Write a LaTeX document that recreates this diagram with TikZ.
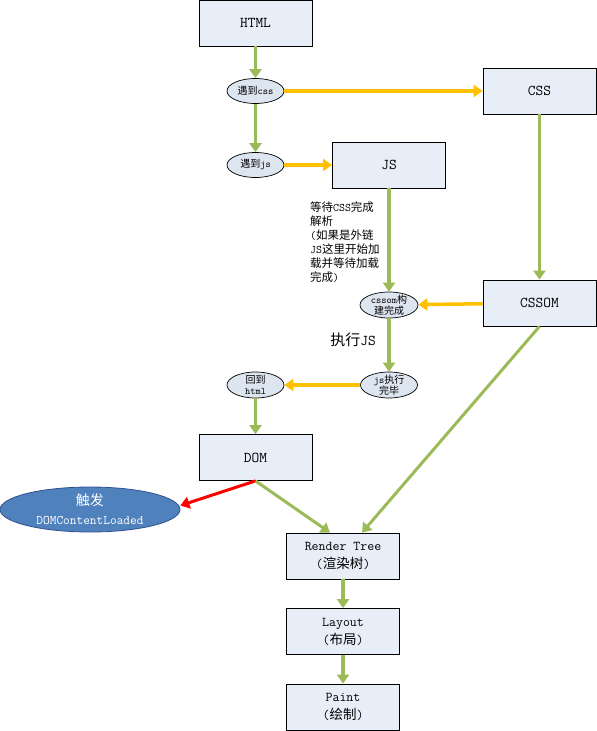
\documentclass[tikz,border=0pt]{standalone}
\usepackage{fontspec}
\newfontfamily\cjk{Noto Sans CJK SC}
\newcommand{\zh}[1]{{\cjk #1}}
\usetikzlibrary{shapes.geometric,arrows.meta}
\definecolor{boxfill}{HTML}{E8EEF7}
\definecolor{ovalfill}{HTML}{DDE5F1}
\definecolor{flowgreen}{HTML}{9BBB59}
\definecolor{floworange}{HTML}{FFC000}
\definecolor{flowred}{HTML}{FF0000}
\definecolor{eventblue}{HTML}{4F81BD}
\definecolor{eventedge}{HTML}{2F528F}

\begin{document}
\begin{tikzpicture}[x=1pt,y=-1pt,
  stage/.style={draw=black, line width=0.8pt, fill=boxfill, minimum width=113pt, minimum height=46pt, inner sep=0pt, align=center, font=\ttfamily\fontsize{15}{16}\selectfont},
  substage/.style={stage, font=\ttfamily\fontsize{13.5}{18}\selectfont},
  oval/.style={ellipse, draw=black, line width=0.7pt, fill=ovalfill, minimum width=57pt, minimum height=25pt, inner sep=0pt, align=center, font=\ttfamily\fontsize{10}{11.5}\selectfont},
  twoline/.style={inner ysep=-1.5pt, minimum height=26pt},
  flow/.style={line width=3.5pt, -{Triangle[length=9pt,width=12pt]}},
  main/.style={flow, draw=flowgreen},
  side/.style={flow, draw=floworange},
  fire/.style={flow, line width=3pt, draw=flowred}
]
\useasboundingbox (0,0) rectangle (597,731);

\node[stage] (html) at (255.5,23) {HTML};
\node[oval] (metcss) at (255.5,91) {\zh{遇到}css};
\node[stage] (css) at (539.5,91) {CSS};
\node[oval] (metjs) at (255.5,165) {\zh{遇到}js};
\node[stage] (js) at (389,165) {JS};
\node[stage] (cssom) at (539.5,303) {CSSOM};
\node[oval, twoline, minimum width=58pt] (cssomdone) at (389,305) {cssom\zh{构}\\\zh{建完成}};
\node[oval, twoline] (jsdone) at (389,385) {js\zh{执行}\\\zh{完毕}};
\node[oval, twoline] (backhtml) at (255.5,385) {\zh{回到}\\html};
\node[stage] (dom) at (255.5,457.5) {DOM};
\node[ellipse, draw=eventedge, line width=0.8pt, fill=eventblue, text=white, minimum width=180pt, minimum height=45pt, inner sep=0pt, align=center, font=\ttfamily\fontsize{13}{19}\selectfont] (loaded) at (90,509.5) {{\fontsize{14}{19}\selectfont\zh{触发}}\\DOMContentLoaded};
\node[substage] (render) at (343,556) {Render Tree\\(\zh{渲染树})};
\node[substage] (layout) at (343,631.5) {Layout\\(\zh{布局})};
\node[substage] (paint) at (343,707) {Paint\\(\zh{绘制})};

\node[anchor=north west, inner sep=0pt, align=left, font=\ttfamily\fontsize{11.5}{14}\selectfont] (wait) at (310,202) {\zh{等待}CSS\zh{完成}\\\zh{解析}\\(\zh{如果是外链}\\JS\zh{这里开始加}\\\zh{载并等待加载}\\\zh{完成})};
\node[font=\ttfamily\fontsize{15}{16}\selectfont] (runjs) at (353,340) {\zh{执行}JS};

\draw[main] (html) -- (metcss);
\draw[side] (metcss) -- (css);
\draw[main] (metcss) -- (metjs);
\draw[side] (metjs) -- (js);
\draw[main] (js) -- (cssomdone);
\draw[main] (css) -- (cssom);
\draw[side] (cssom) -- (cssomdone);
\draw[main] (cssomdone) -- (jsdone);
\draw[side] (jsdone) -- (backhtml);
\draw[main] (backhtml) -- (dom);
\draw[fire] (dom.south) -- ([yshift=4pt]loaded.east);
\draw[main, line width=3pt] (dom.south) -- ([xshift=-13pt]render.north);
\draw[main, line width=3pt] (cssom.south) -- ([xshift=19pt]render.north);
\draw[main] (render) -- (layout);
\draw[main] (layout) -- (paint);

\end{tikzpicture}
\end{document}
